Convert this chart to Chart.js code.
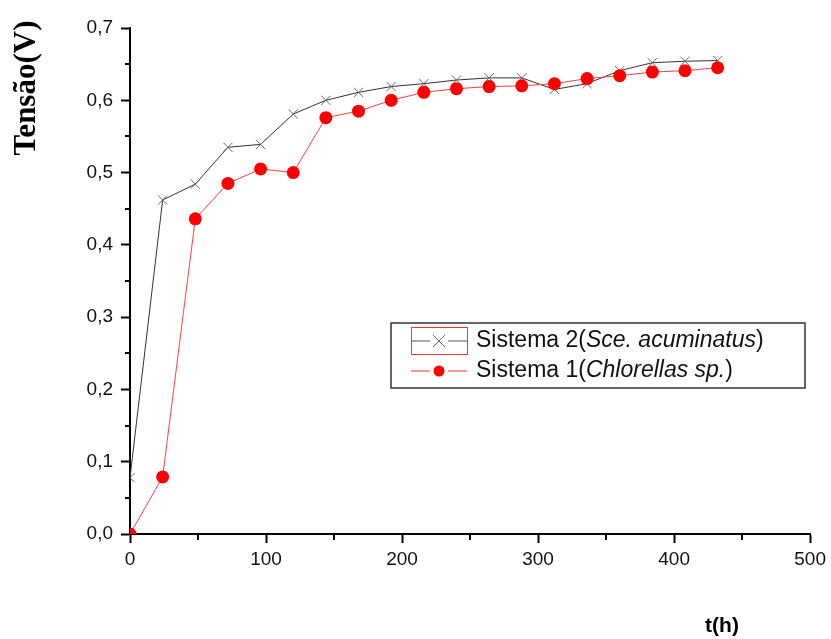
<!DOCTYPE html>
<html lang="pt">
<head>
<meta charset="utf-8">
<title>Tensão x tempo</title>
<script src="https://cdn.jsdelivr.net/npm/chart.js@4.4.1/dist/chart.umd.min.js"></script>
<style>
    body { margin: 0; background: #fff; }
    #grafico { display: block; }
</style>
</head>
<body>
<canvas id="grafico" width="831" height="639"></canvas>
<script>
// tempo de leitura (h)
const tempos = [0, 24, 48, 72, 96, 120, 144, 168, 192, 216, 240, 264, 288, 312, 336, 360, 384, 408, 432];
// Sistema 2 (Sce. acuminatus)
const tensaoSistema2 = [0.078, 0.462, 0.484, 0.535, 0.539, 0.581, 0.600, 0.611, 0.619, 0.623, 0.628, 0.631, 0.631, 0.615, 0.623, 0.641, 0.652, 0.654, 0.655];
// Sistema 1 (Chlorellas sp.)
const tensaoSistema1 = [0.000, 0.079, 0.436, 0.485, 0.505, 0.500, 0.576, 0.585, 0.600, 0.611, 0.616, 0.619, 0.620, 0.623, 0.630, 0.634, 0.639, 0.641, 0.645];

const ticksX = [0, 100, 200, 300, 400, 500];
const menoresX = [50, 150, 250, 350, 450];
const menoresY = [0.05, 0.15, 0.25, 0.35, 0.45, 0.55, 0.65];

const fonteSans = '"Liberation Sans", Arial, sans-serif';

function pontos(valores) {
    return tempos.map((t, i) => ({ x: t, y: valores[i] }));
}

// ticks menores, títulos dos eixos e legenda com nome científico em itálico
const extras = {
    id: 'extras',
    afterDraw(chart) {
        const ctx = chart.ctx;
        const sx = chart.scales.x;
        const sy = chart.scales.y;
        const area = chart.chartArea;

        ctx.save();
        ctx.strokeStyle = '#000';
        ctx.lineWidth = 2;
        menoresX.forEach(v => {
            const px = Math.round(sx.getPixelForValue(v));
            ctx.beginPath();
            ctx.moveTo(px, area.bottom);
            ctx.lineTo(px, area.bottom + 6);
            ctx.stroke();
        });
        menoresY.forEach(v => {
            const py = Math.round(sy.getPixelForValue(v));
            ctx.beginPath();
            ctx.moveTo(area.left - 5, py);
            ctx.lineTo(area.left, py);
            ctx.stroke();
        });

        // título eixo Y
        ctx.fillStyle = '#000';
        ctx.font = 'bold 31px "Liberation Serif", "Times New Roman", serif';
        ctx.textAlign = 'center';
        ctx.textBaseline = 'alphabetic';
        ctx.translate(35, 88);
        ctx.rotate(-Math.PI / 2);
        ctx.fillText('Tensão(V)', 0, 0);
        ctx.setTransform(1, 0, 0, 1, 0, 0);

        // título eixo X
        ctx.font = 'bold 21px ' + fonteSans;
        ctx.textBaseline = 'middle';
        ctx.fillText('t(h)', 722, 626);

        // legenda
        ctx.strokeStyle = '#333';
        ctx.lineWidth = 1.5;
        ctx.strokeRect(391, 323, 414, 65);

        const linhas = [
            { y: 341, cor: '#555', nome: 'Sistema 2(', especie: 'Sce. acuminatus', marca: 'x' },
            { y: 371, cor: '#ff3030', nome: 'Sistema 1(', especie: 'Chlorellas sp.', marca: 'o' }
        ];
        linhas.forEach(l => {
            ctx.strokeStyle = l.cor;
            ctx.lineWidth = 1;
            ctx.beginPath();
            ctx.moveTo(411, l.y); ctx.lineTo(430, l.y);
            ctx.moveTo(448, l.y); ctx.lineTo(467, l.y);
            ctx.stroke();
            if (l.marca === 'x') {
                ctx.strokeStyle = '#666';
                ctx.beginPath();
                ctx.moveTo(433, l.y - 6); ctx.lineTo(445, l.y + 6);
                ctx.moveTo(445, l.y - 6); ctx.lineTo(433, l.y + 6);
                ctx.stroke();
                ctx.strokeStyle = '#ff3030';
                ctx.strokeRect(411.5, 327.5, 56, 27);
            } else {
                ctx.fillStyle = '#ff0000';
                ctx.beginPath();
                ctx.arc(439, l.y, 5.5, 0, Math.PI * 2);
                ctx.fill();
            }
            ctx.fillStyle = '#111';
            ctx.textAlign = 'left';
            ctx.textBaseline = 'middle';
            let x = 476;
            ctx.font = '23px ' + fonteSans;
            ctx.fillText(l.nome, x, l.y);
            x += ctx.measureText(l.nome).width;
            ctx.font = 'italic 23px ' + fonteSans;
            ctx.fillText(l.especie, x, l.y);
            x += ctx.measureText(l.especie).width;
            ctx.font = '23px ' + fonteSans;
            ctx.fillText(')', x, l.y);
        });
        ctx.restore();
    }
};

new Chart(document.getElementById('grafico'), {
    type: 'line',
    data: {
        datasets: [
            {
                label: 'Sistema 1(Chlorellas sp.)',
                data: pontos(tensaoSistema1),
                borderColor: '#ff4040',
                borderWidth: 1,
                pointStyle: 'circle',
                pointRadius: 6.5,
                pointBackgroundColor: '#ff0000',
                pointBorderColor: '#ff0000',
                pointBorderWidth: 0,
                tension: 0,
                order: 0
            },
            {
                label: 'Sistema 2(Sce. acuminatus)',
                data: pontos(tensaoSistema2),
                borderColor: '#333',
                borderWidth: 1,
                pointStyle: 'crossRot',
                pointRadius: 6.5,
                pointBorderColor: '#666',
                pointBorderWidth: 1,
                tension: 0,
                order: 1
            }
        ]
    },
    options: {
        responsive: false,
        animation: false,
        layout: { padding: { top: 28, right: 19, left: 0, bottom: 0 } },
        plugins: {
            legend: { display: false },
            tooltip: { enabled: false }
        },
        scales: {
            x: {
                type: 'linear',
                min: 0,
                max: 500,
                afterBuildTicks: s => { s.ticks = ticksX.map(v => ({ value: v })); },
                afterFit: s => { s.height = 105; },
                ticks: {
                    color: '#111',
                    font: { size: 19, family: fonteSans },
                    padding: 5,
                    maxRotation: 0
                },
                grid: { drawOnChartArea: false, tickLength: 9, tickColor: '#000', tickWidth: 2 },
                border: { color: '#000', width: 2 }
            },
            y: {
                min: 0,
                max: 0.7,
                ticks: {
                    stepSize: 0.1,
                    color: '#111',
                    font: { size: 19, family: fonteSans },
                    padding: 8,
                    callback: v => v.toFixed(1).replace('.', ',')
                },
                afterFit: s => { s.width = 130; },
                grid: { drawOnChartArea: false, tickLength: 9, tickColor: '#000', tickWidth: 2 },
                border: { color: '#000', width: 2 }
            }
        }
    },
    plugins: [extras]
});
</script>
</body>
</html>
